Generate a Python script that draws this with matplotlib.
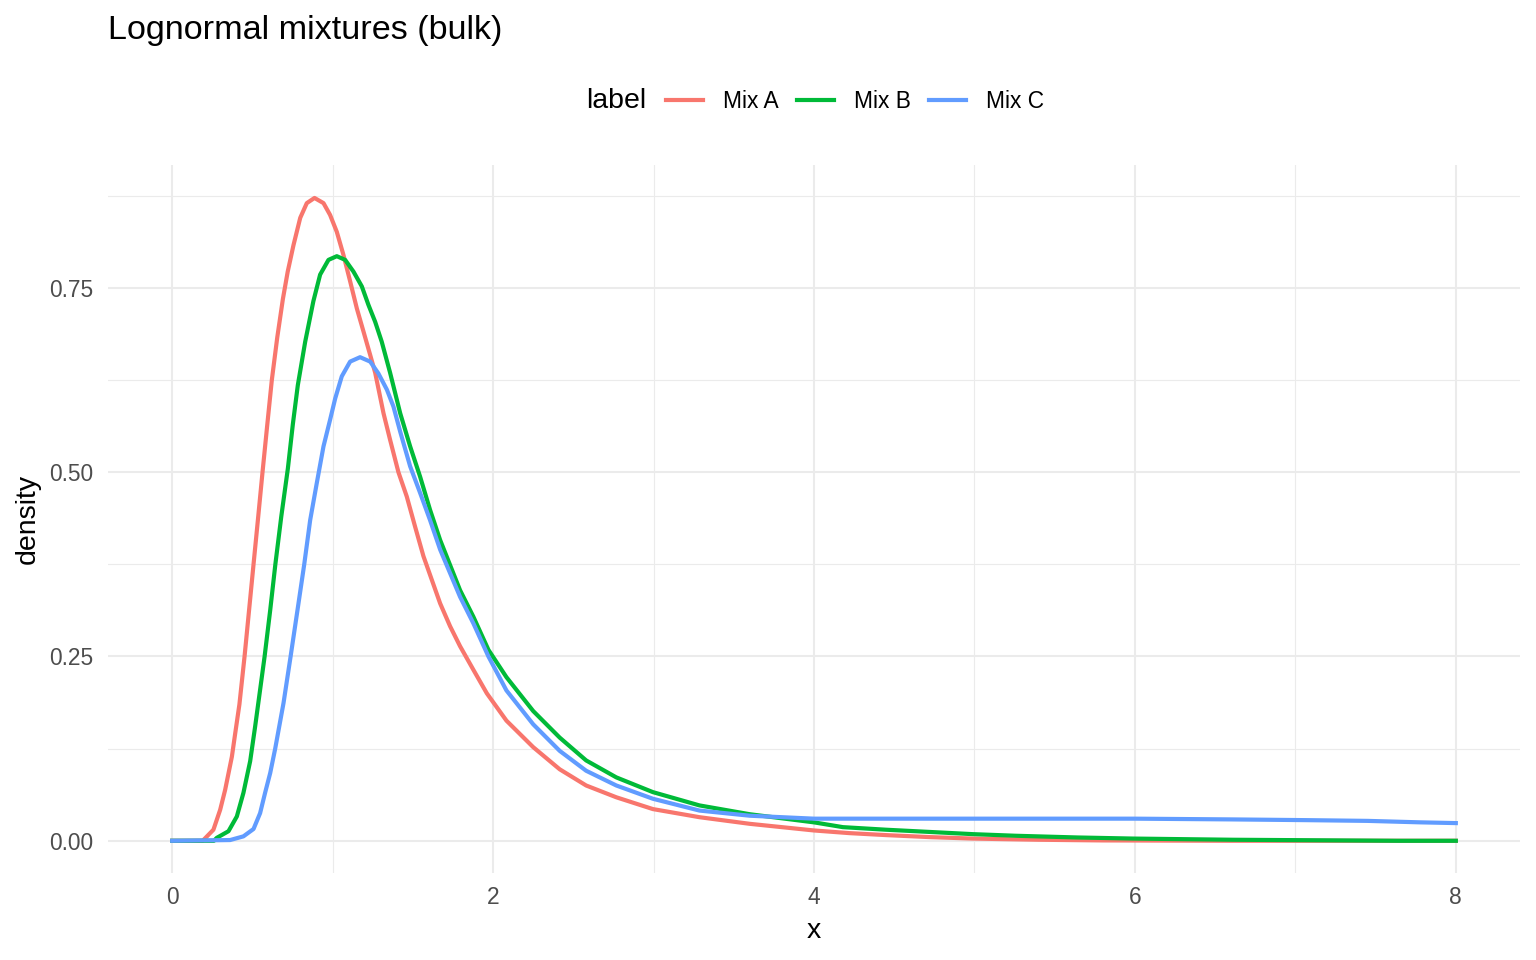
import matplotlib
matplotlib.use("Agg")
import matplotlib.pyplot as plt
from matplotlib.lines import Line2D
from matplotlib.ticker import MultipleLocator

plt.rcParams['font.family'] = ['Liberation Sans', 'DejaVu Sans']

# values
x_a = [0.0, 0.19, 0.257, 0.299, 0.33, 0.372, 0.393, 0.419, 0.451, 0.486,
       0.507, 0.535, 0.563, 0.592, 0.621, 0.655, 0.69, 0.72, 0.756, 0.798,
       0.839, 0.887, 0.943, 0.984, 1.026, 1.067, 1.109, 1.151, 1.192, 1.234,
       1.265, 1.317, 1.358, 1.41, 1.462, 1.514, 1.566, 1.618, 1.67, 1.732,
       1.794, 1.877, 1.961, 2.083, 2.25, 2.415, 2.58, 2.768, 2.996, 3.286,
       3.6, 4.0, 4.22, 4.45, 4.72, 4.99, 5.4, 5.8, 6.6, 8.0]
y_a = [0.0, 0.0, 0.015, 0.042, 0.069, 0.114, 0.146, 0.185, 0.25, 0.328,
       0.375, 0.437, 0.5, 0.563, 0.625, 0.683, 0.735, 0.772, 0.808, 0.845,
       0.865, 0.872, 0.865, 0.849, 0.826, 0.795, 0.759, 0.722, 0.691, 0.659,
       0.635, 0.58, 0.544, 0.50, 0.467, 0.426, 0.386, 0.354, 0.322, 0.291,
       0.264, 0.232, 0.20, 0.163, 0.127, 0.097, 0.075, 0.059, 0.043, 0.032,
       0.023, 0.014, 0.0104, 0.0077, 0.005, 0.003, 0.0014, 0.0005, 0.0, 0.0]

x_b = [0.0, 0.26, 0.278, 0.351, 0.403, 0.444, 0.486, 0.517, 0.576, 0.611,
       0.643, 0.68, 0.721, 0.752, 0.783, 0.829, 0.88, 0.922, 0.974, 1.026,
       1.078, 1.13, 1.182, 1.223, 1.265, 1.306, 1.358, 1.421, 1.483, 1.545,
       1.607, 1.67, 1.732, 1.794, 1.877, 1.971, 2.083, 2.25, 2.415, 2.58,
       2.768, 2.996, 3.286, 3.6, 4.0, 4.18, 4.45, 4.72, 4.99, 5.26,
       5.64, 5.99, 6.61, 7.64, 8.0]
y_b = [0.0, 0.0, 0.004, 0.013, 0.033, 0.065, 0.108, 0.155, 0.25, 0.313,
       0.375, 0.44, 0.505, 0.565, 0.618, 0.677, 0.732, 0.768, 0.788, 0.793,
       0.788, 0.772, 0.752, 0.727, 0.704, 0.677, 0.635, 0.58, 0.535, 0.494,
       0.449, 0.408, 0.374, 0.34, 0.304, 0.259, 0.222, 0.176, 0.14, 0.109,
       0.086, 0.066, 0.048, 0.036, 0.025, 0.0185, 0.015, 0.012, 0.009, 0.0068,
       0.0045, 0.003, 0.0014, 0.0, 0.0]

x_c = [0.0, 0.361, 0.444, 0.507, 0.548, 0.579, 0.611, 0.642, 0.694, 0.738,
       0.781, 0.823, 0.86, 0.901, 0.943, 0.984, 1.016, 1.057, 1.109, 1.171,
       1.234, 1.285, 1.338, 1.379, 1.421, 1.483, 1.545, 1.607, 1.67, 1.732,
       1.794, 1.877, 1.971, 2.083, 2.25, 2.415, 2.58, 2.768, 2.996, 3.286,
       3.6, 4.0, 5.0, 6.0, 6.6, 7.07, 7.45, 7.78, 8.0]
y_c = [0.0, 0.001, 0.006, 0.016, 0.0375, 0.065, 0.092, 0.125, 0.187, 0.25,
       0.313, 0.375, 0.435, 0.485, 0.535, 0.571, 0.60, 0.630, 0.650, 0.656,
       0.650, 0.634, 0.612, 0.589, 0.555, 0.508, 0.472, 0.435, 0.395, 0.363,
       0.331, 0.295, 0.25, 0.204, 0.158, 0.122, 0.095, 0.075, 0.057, 0.041,
       0.034, 0.030, 0.030, 0.030, 0.029, 0.028, 0.027, 0.025, 0.024]

labels = ['Mix A', 'Mix B', 'Mix C']
colors = ['#F8766D', '#00BA38', '#619CFF']

fig = plt.figure(figsize=(15.36, 9.6), dpi=100)
ax = fig.add_axes([108 / 1536, 1 - 873 / 960, (1520 - 108) / 1536, (873 - 165) / 960])

for xs, ys, c in zip([x_a, x_b, x_c], [y_a, y_b, y_c], colors):
    ax.plot(xs, ys, color=c, lw=3.0, solid_joinstyle='round')

ax.set_xlim(-0.4, 8.4)
ax.set_ylim(-0.0437, 0.9167)
ax.xaxis.set_major_locator(MultipleLocator(2))
ax.xaxis.set_minor_locator(MultipleLocator(1))
ax.yaxis.set_major_locator(MultipleLocator(0.25))
ax.yaxis.set_minor_locator(MultipleLocator(0.125))
ax.yaxis.set_major_formatter(lambda v, p: f"{v:.2f}")
ax.grid(which='major', color='#EBEBEB', lw=1.5)
ax.grid(which='minor', color='#EBEBEB', lw=0.8)
ax.set_axisbelow(True)
for s in ax.spines.values():
    s.set_visible(False)
ax.tick_params(which='both', length=0)
ax.tick_params(axis='both', labelsize=16.4, colors='#4D4D4D')
ax.tick_params(axis='y', pad=10.5)
ax.tick_params(axis='x', pad=9)

fig.text(814 / 1536, 1 - 931 / 960, 'x', fontsize=20.5, ha='center', va='center')
fig.text(28 / 1536, 1 - 519 / 960, 'density', fontsize=20.5, ha='center', va='center',
         rotation=90)

fig.text(108 / 1536, 1 - 30 / 960, 'Lognormal mixtures (bulk)', fontsize=24.6,
         va='center', ha='left')

fig.text(586 / 1536, 1 - 101 / 960, 'label', fontsize=20.5, va='center', ha='left')
handles = [Line2D([], [], color=c, lw=3.0) for c in colors]
fig.legend(handles, labels, loc='center left', bbox_to_anchor=(666 / 1536, 1 - 101 / 960),
           ncol=3, frameon=False, fontsize=16.4, handlelength=1.62, handletextpad=0.88,
           columnspacing=0.8, borderpad=0, borderaxespad=0)

fig.savefig('out.png', dpi=100)
